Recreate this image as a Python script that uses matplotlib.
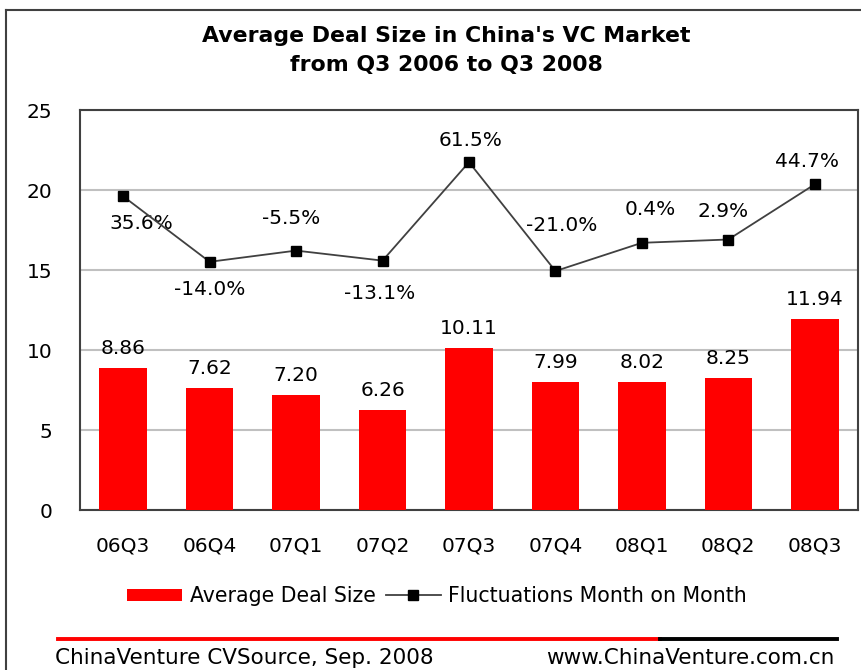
import numpy as np
import matplotlib
matplotlib.use("Agg")
import matplotlib.pyplot as plt
from matplotlib.lines import Line2D
from matplotlib.patches import Patch

quarters = ["06Q3", "06Q4", "07Q1", "07Q2", "07Q3", "07Q4", "08Q1", "08Q2", "08Q3"]
deal_size = [8.86, 7.62, 7.20, 6.26, 10.11, 7.99, 8.02, 8.25, 11.94]
fluct_pct = [35.6, -14.0, -5.5, -13.1, 61.5, -21.0, 0.4, 2.9, 44.7]

# label offsets for the % labels (pixels), hand-placed like the original
pct_offsets = [(18, -27), (0, -28), (-5, 32), (-3, -33), (2, 22),
               (6, 46), (8, 33), (-5, 28), (-8, 23)]

plt.rcParams["font.family"] = "DejaVu Sans"

fig = plt.figure(figsize=(8.61, 6.70), dpi=100)
W, H = 861, 670

ax = fig.add_axes([80 / W, 1 - 510 / H, 778 / W, 400 / H])
x = np.arange(len(quarters))

ax.bar(x, deal_size, width=0.55, color="#ff0000", zorder=3)
ax.set_xlim(-0.5, len(quarters) - 0.5)
ax.set_ylim(0, 25)
ax.set_yticks([0, 5, 10, 15, 20, 25])
ax.set_xticks(x)
ax.set_xticklabels(quarters)
ax.tick_params(length=0, labelsize=14.5, colors="black")
ax.tick_params(axis="y", pad=20)
ax.tick_params(axis="x", pad=19)
ax.grid(True, axis="y", color="#c0c0c0", linewidth=1.5, zorder=0)
for s in ax.spines.values():
    s.set_color("#404040")
    s.set_linewidth(1.5)

for xi, v in zip(x, deal_size):
    ax.annotate(f"{v:.2f}", (xi, v), xytext=(0, 10), textcoords="offset pixels",
                ha="center", va="bottom", fontsize=14.5)

# secondary (hidden) axis for the percentage line
ax2 = ax.twinx()
ax2.set_ylim(-202, 101)
ax2.set_xlim(-0.5, len(quarters) - 0.5)
ax2.axis("off")
ax2.plot(x, fluct_pct, color="#404040", linewidth=1.3, marker="s",
         markersize=7, markerfacecolor="black", markeredgecolor="black", zorder=4)
for xi, v, (dx, dy) in zip(x, fluct_pct, pct_offsets):
    ax2.annotate(f"{v:.1f}%", (xi, v), xytext=(dx, dy), textcoords="offset pixels",
                 ha="center", va="center", fontsize=14.5)

# title
fig.text(446 / W, 1 - 36 / H, "Average Deal Size in China's VC Market",
         ha="center", va="center", fontsize=15.8, fontweight="bold")
fig.text(446 / W, 1 - 65 / H, "from Q3 2006 to Q3 2008",
         ha="center", va="center", fontsize=15.8, fontweight="bold")

# legend
handles = [Patch(facecolor="#ff0000", edgecolor="none"),
           Line2D([0], [0], color="#404040", linewidth=1.3, marker="s",
                  markersize=7, markerfacecolor="black", markeredgecolor="black")]
fig.legend(handles, ["Average Deal Size", "Fluctuations Month on Month"],
           loc="center", bbox_to_anchor=(437 / W, 1 - 596 / H), ncol=2,
           frameon=False, prop={"size": 14.8},
           handlelength=2.7, handleheight=0.55, handletextpad=0.35,
           columnspacing=0.5, borderpad=0)

# outer frame
fig.add_artist(Line2D([6 / W, 6 / W], [0, 1 - 10 / H], color="#404040", linewidth=1.5))
fig.add_artist(Line2D([6 / W, 1], [1 - 10 / H, 1 - 10 / H], color="#404040", linewidth=1.5))

# footer
fig.add_artist(Line2D([58 / W, 660 / W], [1 - 639 / H] * 2, color="#ff0000", linewidth=2.8))
fig.add_artist(Line2D([660 / W, 837 / W], [1 - 639 / H] * 2, color="black", linewidth=2.8))
fig.text(55 / W, 1 - 658 / H, "ChinaVenture CVSource, Sep. 2008",
         ha="left", va="center", fontsize=15.5)
fig.text(834 / W, 1 - 658 / H, "www.ChinaVenture.com.cn",
         ha="right", va="center", fontsize=15.5)

plt.savefig("out.png", dpi=100)
plt.close()
